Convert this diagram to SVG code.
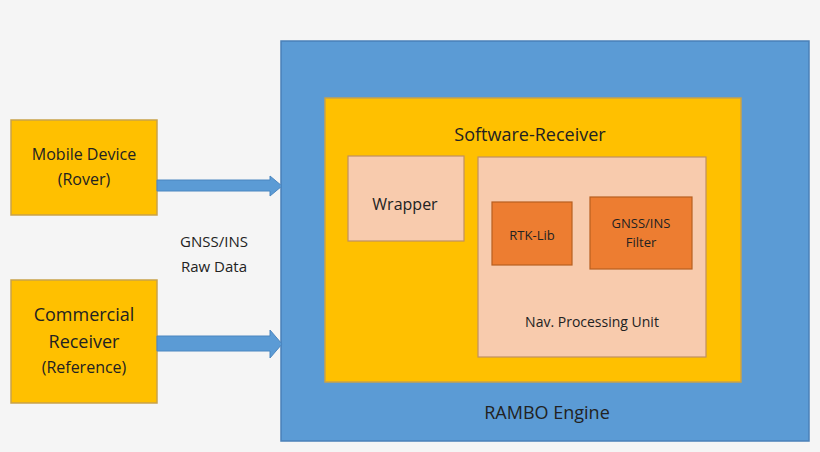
<svg xmlns="http://www.w3.org/2000/svg" width="820" height="452" viewBox="0 0 820 452">
<style>
text{font-family:"Open Sans","Noto Sans",sans-serif;fill:#222;text-anchor:middle}
.y{fill:#ffc000;stroke:#c9a24a;stroke-width:1.5}
.p{fill:#f8cbad;stroke:#c09060;stroke-width:1.2}
.o{fill:#ed7d31;stroke:#b85f20;stroke-width:1.2}
.a{fill:#5b9bd5;stroke:#4a86c0;stroke-width:1}
</style>
<rect width="820" height="452" fill="#f5f5f5"/>
<g id="engine"><rect x="281" y="41" width="528" height="400" fill="#5b9bd5" stroke="#4a80b8" stroke-width="1.5"/><text x="547" y="419" font-size="18">RAMBO Engine</text></g>
<g id="software"><rect class="y" x="325" y="98" width="416" height="284"/><text x="530" y="141" font-size="18">Software-Receiver</text></g>
<g id="wrapper"><rect class="p" x="348" y="156" width="116" height="85"/><text x="405" y="210" font-size="16">Wrapper</text></g>
<g id="npu"><rect class="p" x="478" y="157" width="228" height="200"/><text x="592" y="327" font-size="14">Nav. Processing Unit</text></g>
<g id="rtk"><rect class="o" x="492" y="202" width="80" height="63"/><text x="532" y="240" font-size="13">RTK-Lib</text></g>
<g id="filter"><rect class="o" x="590" y="197" width="102" height="72"/><text x="641" y="228" font-size="13">GNSS/INS</text><text x="641" y="247" font-size="13">Filter</text></g>
<g id="mobile"><rect class="y" x="11" y="120" width="146" height="95"/><text x="84" y="160" font-size="16">Mobile Device</text><text x="84" y="185" font-size="16">(Rover)</text></g>
<g id="commercial"><rect class="y" x="11" y="280" width="146" height="123"/><text x="84" y="321" font-size="18">Commercial</text><text x="84" y="348" font-size="18">Receiver</text><text x="84" y="373" font-size="16">(Reference)</text></g>
<text x="214" y="247" font-size="15">GNSS/INS</text><text x="214" y="272" font-size="15">Raw Data</text>
<g id="connectors">
<polygon class="a" points="157,180 270,180 270,176 282,186 270,196 270,191 157,191"/>
<polygon class="a" points="157,336 270,336 270,330 282,344 270,358 270,351 157,351"/>
</g>
</svg>
